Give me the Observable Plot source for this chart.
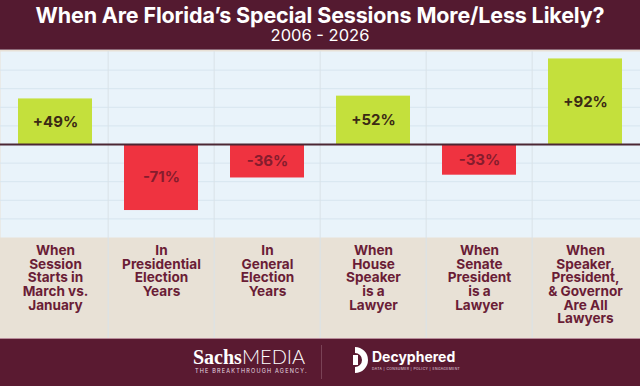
<!DOCTYPE html>
<html><head><meta charset="utf-8">
<script src="https://cdn.jsdelivr.net/npm/d3@7"></script>
<script src="https://cdn.jsdelivr.net/npm/@observablehq/plot@0.6"></script>
<style>
body{margin:0;width:640px;height:386px;overflow:hidden;font-family:Inter,Roboto,"Liberation Sans",sans-serif;background:#5a1a31;}
#hdr{height:49px;background:#541a30;color:#fff;text-align:center;border-bottom:1px solid #8d6a79;position:relative;}
#hdr .t{position:absolute;left:0;right:0;top:4px;line-height:22px;font-size:21.5px;font-weight:700;letter-spacing:-0.15px;}
#hdr .s{position:absolute;left:0;right:0;top:26px;line-height:18px;font-size:16.5px;font-weight:400;}
#chart{height:288px;}
#chart svg{display:block;}
#ftr{height:47px;background:#5a1a31;border-top:1px solid #b88c9b;position:relative;color:#fff;}
#ftr .sachs{position:absolute;left:193px;top:6px;font-size:20px;line-height:22px;white-space:nowrap;}
#ftr .sachs b{font-family:"Liberation Serif","DejaVu Serif",serif;font-weight:700;}
#ftr .sachs span{font-family:Lato,"Open Sans",sans-serif;font-weight:300;}
#ftr .tag{position:absolute;left:195px;top:29px;font-size:5.5px;letter-spacing:1.2px;color:#e8dde1;white-space:nowrap;}
#ftr .div{position:absolute;left:321px;top:6px;width:1px;height:34px;background:#7a4256;}
#ftr .logo{position:absolute;left:353px;top:7px;}
#ftr .dec{position:absolute;left:372px;top:9px;font-size:14px;font-weight:700;}
#ftr .dtag{position:absolute;left:372px;top:28px;font-size:3.4px;letter-spacing:0.4px;color:#e8dde1;white-space:nowrap;}
</style></head><body>
<div id="hdr"><div class="t">When Are Florida’s Special Sessions More/Less Likely?</div><div class="s">2006 - 2026</div></div>
<div id="chart"></div>
<div id="ftr">
  <div class="sachs"><b>Sachs</b><span>MEDIA</span></div>
  <div class="tag">THE BREAKTHROUGH AGENCY.</div>
  <div class="div"></div>
  <svg class="logo" width="16" height="28" viewBox="0 0 16 28"><path d="M2 1 A13 13 0 0 1 2 27 L2 21 A7 7 0 0 0 2 7 Z" fill="#fff"/><path d="M0 9 L5 9 L5 19 L0 19 Z" fill="#fff"/></svg>
  <div class="dec">Decyphered</div>
  <div class="dtag">DATA | CONSUMER | POLICY | ENGAGEMENT</div>
</div>
<script>
const categories = ["march", "presidential", "general", "house", "senate", "all"];
const labels = [
  "When\nSession\nStarts in\nMarch vs.\nJanuary",
  "In\nPresidential\nElection\nYears",
  "In\nGeneral\nElection\nYears",
  "When\nHouse\nSpeaker\nis a\nLawyer",
  "When\nSenate\nPresident\nis a\nLawyer",
  "When\nSpeaker,\nPresident,\n& Governor\nAre All\nLawyers"
];
const values = [49, -71, -36, 52, -33, 92];
const gridTicks = [-80, -60, -40, -20, 20, 40, 60, 80];

const data = categories.map((c, i) => ({cat: c, label: labels[i], value: values[i]}));
const W = 640;
const chart = Plot.plot({
  width: W, height: 288,
  marginTop: 1, marginBottom: 101, marginLeft: 0, marginRight: 0,
  style: {background: "#e8e1d6", fontFamily: "Inter, Roboto, sans-serif", overflow: "visible"},
  x: {domain: categories, type: "band", paddingInner: 0.3, paddingOuter: 0.15, axis: null},
  y: {domain: [-100, 100], axis: null},
  color: {type: "identity"},
  marks: [
    Plot.frame({fill: "#e9f3fa", stroke: null}),
    Plot.ruleY(gridTicks, {stroke: "#d7e5ef", strokeWidth: 1}),
    Plot.ruleX(categories.slice(1), {dx: -W / 12, stroke: "#d9e2e8", strokeWidth: 1, insetBottom: -101}),
    Plot.barY(data, {x: "cat", y: "value", fill: d => d.value > 0 ? "#c4e03c" : "#ef3340"}),
    Plot.ruleY([0], {stroke: "#4b2633", strokeWidth: 2}),
    Plot.text(data, {x: "cat", y: d => d.value / 2, text: d => (d.value > 0 ? "+" : "") + d.value + "%",
      fontSize: 15, fontWeight: "bold", fill: d => d.value > 0 ? "#3b2a14" : "#861c2d"}),
    Plot.text(data, {x: "cat", text: "label", frameAnchor: "bottom", lineAnchor: "top", dy: 8,
      fontSize: 13.6, fontWeight: "bold", fill: "#6a1d36", lineHeight: 1})
  ]
});
document.getElementById("chart").appendChild(chart);
</script>
</body></html>
